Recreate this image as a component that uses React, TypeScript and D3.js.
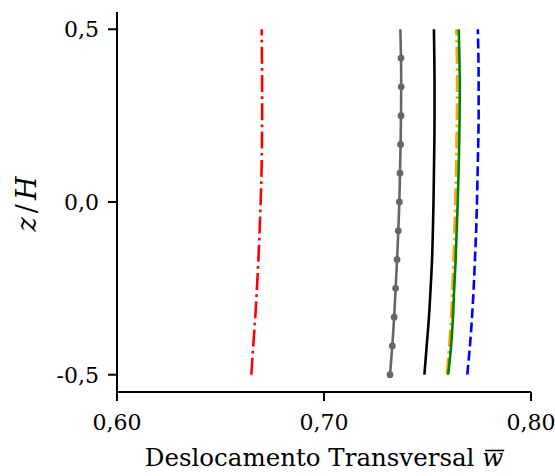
import React, { useEffect, useRef, useState } from "react";
import * as d3 from "d3";

// z/H levels (bottom to top)
const zLevels = [-0.5, -0.4167, -0.3333, -0.25, -0.1667, -0.0833, 0, 0.0833, 0.1667, 0.25, 0.3333, 0.4167, 0.5];

// transverse displacement per series
const redDashDot = [0.6649, 0.6658, 0.6668, 0.6676, 0.6683, 0.6689, 0.6694, 0.6698, 0.67, 0.6701, 0.6701, 0.67, 0.6699];
const grayMarkers = [0.7319, 0.733, 0.7339, 0.7346, 0.7353, 0.7359, 0.7364, 0.7367, 0.737, 0.7372, 0.7373, 0.7372, 0.7369];
const blackSolid = [0.7485, 0.7496, 0.7507, 0.7515, 0.7522, 0.7526, 0.7529, 0.7531, 0.7533, 0.7534, 0.7534, 0.7533, 0.7531];
const orangeDashDot = [0.7593, 0.7605, 0.7614, 0.762, 0.7626, 0.763, 0.7634, 0.7638, 0.764, 0.7642, 0.7643, 0.7642, 0.7639];
const greenSolid = [0.76, 0.7614, 0.7623, 0.7629, 0.7636, 0.7641, 0.7646, 0.765, 0.7653, 0.7655, 0.7656, 0.7654, 0.7651];
const blueDashed = [0.7692, 0.7705, 0.7715, 0.7723, 0.7729, 0.7735, 0.7739, 0.7742, 0.7745, 0.7747, 0.7747, 0.7746, 0.7743];

const xTicks = [0.6, 0.7, 0.8];
const xTickLabels = ["0,60", "0,70", "0,80"];
const yTicks = [-0.5, 0, 0.5];
const yTickLabels = ["-0,5", "0,0", "0,5"];

const FONT = "'DejaVu Serif', serif";

export default function App() {
  const x = d3.scaleLinear().domain([0.6, 0.8]).range([117, 531]);
  const y = d3.scaleLinear().domain([-0.55, 0.55]).range([392, 12]);
  const line = (vals: number[]) =>
    d3.line<number>().x((v) => x(v)).y((_, i) => y(zLevels[i])).curve(d3.curveMonotoneY)(vals) || "";

  const labelRef = useRef<SVGTextElement>(null);
  const [bar, setBar] = useState<{ x1: number; x2: number; y: number } | null>(null);
  useEffect(() => {
    const t = labelRef.current;
    if (!t) return;
    const n = t.getNumberOfChars();
    const ext = t.getExtentOfChar(n - 1);
    setBar({ x1: ext.x + 3, x2: ext.x + ext.width + 1, y: 450.5 });
  }, []);

  const series = [
    { vals: redDashDot, color: "#ff0000", dash: "17,4.3,2.7,4.3" },
    { vals: blueDashed, color: "#0000ff", dash: "9.9,4.3" },
    { vals: orangeDashDot, color: "#ffa500", dash: "17,4.3,2.7,4.3" },
    { vals: greenSolid, color: "#008000", dash: null },
    { vals: blackSolid, color: "#000000", dash: null },
    { vals: grayMarkers, color: "#666666", dash: null },
  ];

  return (
    <svg width={555} height={476} style={{ position: "absolute", left: 0, top: 0, background: "#fff" }}>
      {series.map((s, i) => (
        <path
          key={i}
          d={line(s.vals)}
          fill="none"
          stroke={s.color}
          strokeWidth={2.6}
          strokeDasharray={s.dash || undefined}
        />
      ))}
      {grayMarkers.slice(0, -1).map((v, i) => (
        <circle key={i} cx={x(v)} cy={y(zLevels[i])} r={3.4} fill="#666666" />
      ))}
      {/* spines */}
      <line x1={117} x2={117} y1={12} y2={393} stroke="#000" strokeWidth={2} />
      <line x1={116} x2={531} y1={392} y2={392} stroke="#000" strokeWidth={2} />
      {xTicks.map((t, i) => (
        <g key={i}>
          <line x1={x(t)} x2={x(t)} y1={392} y2={401} stroke="#000" strokeWidth={2} />
          <text x={x(t)} y={430} textAnchor="middle" fontFamily={FONT} fontSize={22} fill="#000">
            {xTickLabels[i]}
          </text>
        </g>
      ))}
      {yTicks.map((t, i) => (
        <g key={i}>
          <line x1={108} x2={117} y1={y(t)} y2={y(t)} stroke="#000" strokeWidth={2} />
          <text x={99} y={y(t) + 8} textAnchor="end" fontFamily={FONT} fontSize={22} fill="#000">
            {yTickLabels[i]}
          </text>
        </g>
      ))}
      <text ref={labelRef} x={324} y={466} textAnchor="middle" fontFamily={FONT} fontSize={24.5} fill="#000">
        Deslocamento Transversal <tspan fontStyle="italic">w</tspan>
      </text>
      {bar && <line x1={bar.x1} x2={bar.x2} y1={bar.y} y2={bar.y} stroke="#000" strokeWidth={1.6} />}
      <text
        transform={`translate(36,${y(0)}) rotate(-90)`}
        textAnchor="middle"
        fontFamily={FONT}
        fontSize={27}
        letterSpacing={4}
        fill="#000"
      >
        <tspan fontStyle="italic">z</tspan>/<tspan fontStyle="italic">H</tspan>
      </text>
    </svg>
  );
}
